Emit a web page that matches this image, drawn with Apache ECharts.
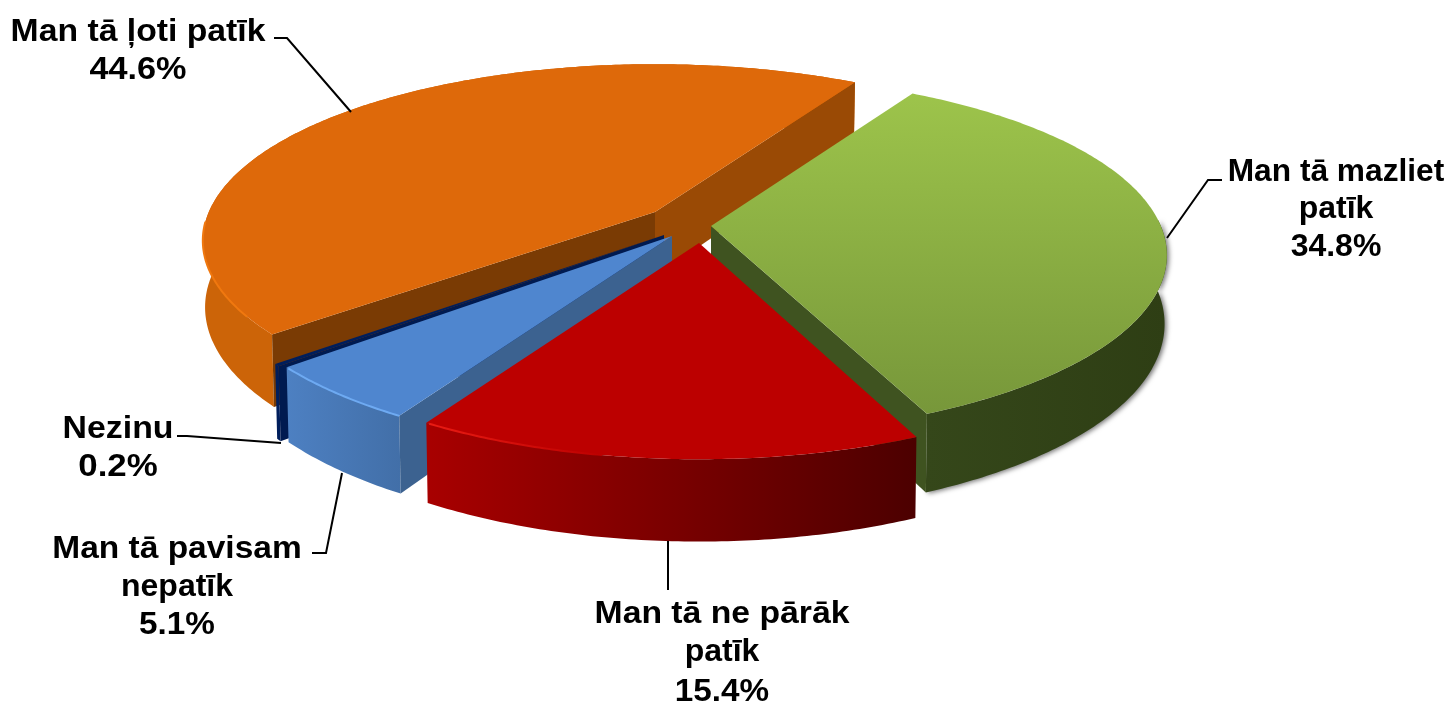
<!DOCTYPE html>
<html><head><meta charset="utf-8">
<style>html,body{margin:0;padding:0;background:#fff}#c{width:1449px;height:704px}</style>
<script src="https://cdn.jsdelivr.net/npm/echarts@6/dist/echarts.min.js"></script>
</head><body><div id="c"></div>
<script>
// ---- data (clockwise from the first slice) ----
const categories = ['Man tā mazliet patīk', 'Man tā ne pārāk patīk', 'Man tā pavisam nepatīk', 'Nezinu', 'Man tā ļoti patīk'];
const shares = [34.8, 15.4, 5.1, 0.2, 44.6];
const labelLines = [
  ['Man tā mazliet', 'patīk', '34.8%'],
  ['Man tā ne pārāk', 'patīk', '15.4%'],
  ['Man tā pavisam', 'nepatīk', '5.1%'],
  ['Nezinu', '0.2%'],
  ['Man tā ļoti patīk', '44.6%']
];

// ---- projection and styling ----
const START = 30.7, R = 453, PERSP = 0.162, LOW_X = 0.995;
const v = (c, s) => ({type:'linear',x:0,y:0,x2:0,y2:1,colorStops:[{offset:0,color:c},{offset:1,color:s}]});
const h = (c, s) => ({type:'linear',x:0,y:0,x2:1,y2:0,colorStops:[{offset:0,color:c},{offset:1,color:s}]});
const looks = [
  {apex:[711,226], k:0.993, tilt:0.39,  depth:67, z:2, top:v('#9dc44b','#77973a'), wall:h('#35471a','#2e3e14'), faceA:'#3f5320', faceB:'#3f5320', rim:null, shadow:true, wallFrom:88},
  {apex:[699,243], k:1,     tilt:0.4,   depth:69, z:5, top:'#bc0000', wall:h('#a80000','#4c0000'), faceA:'#800000', faceB:'#800000', rim:h('#ea1c14','#bc0000'), rimFrom:190},
  {apex:[672,236], k:1,     tilt:0.4,   depth:67, z:4, top:'#4f86cf', wall:h('#4d80c2','#426fa8'), faceA:'#3c6290', faceB:'#3c6290', rim:'#6eaaf2'},
  {apex:[664,235], k:1,     tilt:0.4,   depth:67, z:3, top:'#001e5c', wall:'#001e5c', faceA:'#001a50', faceB:'#001a50', rim:null},
  {apex:[655,212], k:0.985, tilt:0.385, depth:65, z:1, top:'#de690a', wall:'#cc6408', faceA:'#7a3b04', faceB:'#9a4a05', rim:'#f0780f', rimFrom:236}
];
const labelCfg = [
  {cx:1336, y:[172,209,247], sx:[0.99,1,1],      line:[[1167,238],[1208,180],[1222,180]]},
  {cx:722,  y:[614,652,692], sx:[1.054,1,1.04],  line:[[668,541],[668,590]]},
  {cx:177,  y:[549,587,625], sx:[1.046,1,1.04],  line:[[342,473],[326,553],[312,553]]},
  {cx:118,  y:[429,467],     sx:[1.058,1.09],    line:[[281,443],[187,436],[177,436]]},
  {cx:138,  y:[32,70],       sx:[1.054,1.07],    line:[[351,112],[287,38],[274,38]]}
];
const FONT = 'bold 32px "Liberation Sans", Arial, sans-serif';

function project(deg, L, low) {
  const a = deg * Math.PI / 180, x = Math.sin(a), y = -Math.cos(a);
  const f = 1 / (1 - PERSP * y), r = R * L.k;
  const px = r * x * f * (low ? LOW_X : 1);
  return [L.apex[0] + px, L.apex[1] + r * L.tilt * y * f + (low ? L.depth * f : 0)];
}
function arc(from, to, L, low) {
  const pts = [], n = Math.max(2, Math.ceil(Math.abs(to - from) * 1.5));
  for (let i = 0; i <= n; i++) pts.push(project(from + (to - from) * i / n, L, low));
  return pts;
}
function cross(a, b, p) { return (b[0]-a[0])*(p[1]-a[1]) - (b[1]-a[1])*(p[0]-a[0]); }

function renderSlice(params, api) {
  const i = params.dataIndex, L = looks[i], total = shares.reduce((s, x) => s + x, 0);
  const before = shares.slice(0, i).reduce((s, x) => s + x, 0);
  const t0 = START + before / total * 360, t1 = t0 + api.value(0) / total * 360;
  const A = L.apex, mid = project((t0 + t1) / 2, L, false), kids = [];
  const poly = (points, fill, extra, more) => ({type:'polygon', z2:L.z*10 + (extra||0), shape:{points}, style:Object.assign({fill, stroke:null}, more||{})});

  const wallStart = Math.max(t0, L.wallFrom || t0);
  const wallTop = arc(wallStart, t1, L, false), wallLow = arc(wallStart, t1, L, true);
  kids.push(poly(wallTop.concat(wallLow.slice().reverse()), L.wall, 0,
    L.shadow ? {shadowBlur:5, shadowColor:'rgba(0,0,0,0.55)', shadowOffsetX:2, shadowOffsetY:1} : null));

  [[t0, L.faceA], [t1, L.faceB]].forEach(([t, col]) => {
    const E = project(t, L, false);
    if (cross(A, E, mid) * cross(A, E, [A[0], A[1] + 100]) < 0) {
      kids.push(poly([A, E, project(t, L, true), [A[0], A[1] + L.depth]], col, 1));
    }
  });
  kids.push(poly([A].concat(arc(t0, t1, L, false)), L.top, 2));
  // lit bevel along the part of the rim facing the viewer
  if (L.rim) {
    const front = [];
    for (let t = t0; t <= t1; t += 0.5) {
      if (Math.cos(t * Math.PI / 180) < -0.05 && t >= (L.rimFrom || 0)) front.push(project(t, L, false));
    }
    if (front.length > 1) kids.push({type:'polyline', z2:L.z*10 + 3, shape:{points:front}, style:{fill:null, stroke:L.rim, lineWidth:2}});
  }

  const C = labelCfg[i];
  kids.push({type:'polyline', z2:100, shape:{points:C.line}, style:{fill:null, stroke:'#000', lineWidth:2}});
  labelLines[i].forEach((txt, k) => kids.push({type:'text', z2:101,
    x:C.cx, y:C.y[k], scaleX:C.sx[k],
    style:{text:txt, x:0, y:0, fill:'#000', font:FONT, textAlign:'center', textVerticalAlign:'middle', align:'center', verticalAlign:'middle'}}));
  return {type:'group', children:kids};
}

const chart = echarts.init(document.getElementById('c'));
chart.setOption({
  animation:false,
  backgroundColor:'#fff',
  series:[{type:'custom', coordinateSystem:'none', renderItem:renderSlice,
    data:shares.map((s, i) => ({name:categories[i], value:[s]}))}]
});
</script></body></html>
